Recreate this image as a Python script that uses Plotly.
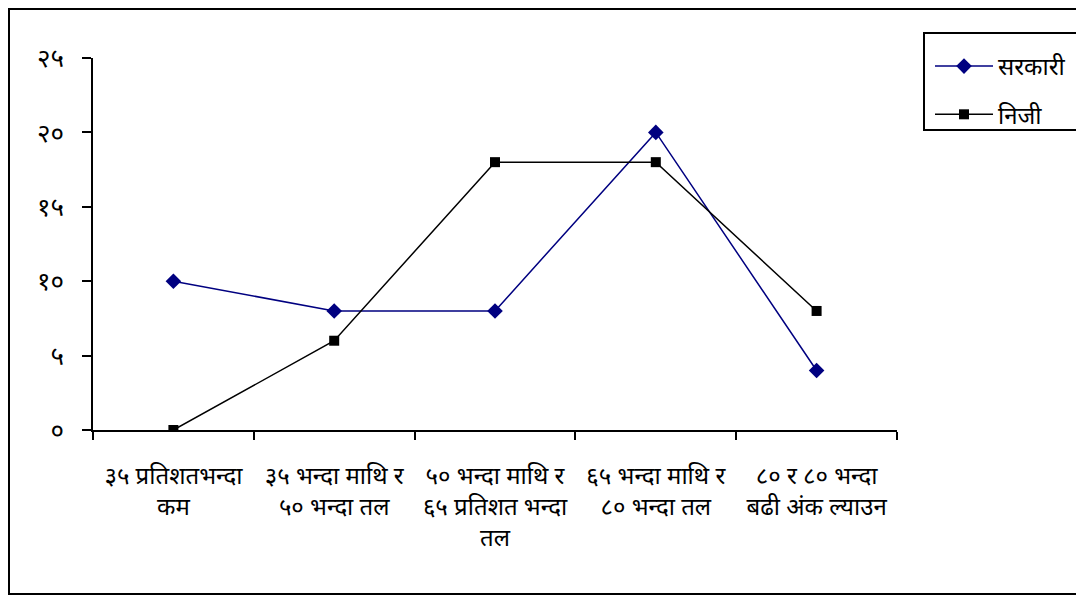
import plotly.graph_objects as go

categories = [
    "३५ प्रतिशतभन्दा<br>कम",
    "३५ भन्दा माथि र<br>५० भन्दा तल",
    "५० भन्दा माथि र<br>६५ प्रतिशत भन्दा<br>तल",
    "६५ भन्दा माथि र<br>८० भन्दा तल",
    "८० र ८० भन्दा<br>बढी अंक ल्याउन",
]
sarkari = [10, 8, 8, 20, 4]
niji = [0, 6, 18, 18, 8]
series_names = ["सरकारी", "निजी"]
y_tickvals = [0, 5, 10, 15, 20, 25]
y_ticktext = ["०", "५", "१०", "१५", "२०", "२५"]

OFF = 8  # page body margin
W, H = 1084 - OFF, 596 - OFF
L, R, T, B = 93 - OFF, 897 - OFF, 58 - OFF, 430 - OFF  # plot area in figure px

def px_x(p):
    return (p - OFF - L) / (R - L)

def px_y(p):
    return (B - (p - OFF)) / (B - T)

font_family = "Noto Sans Devanagari, Noto Sans, Lohit Devanagari, FreeSans, sans-serif"

fig = go.Figure()
fig.add_trace(go.Scatter(
    x=categories, y=sarkari, name=series_names[0], legendgroup="a",
    mode="lines+markers",
    line=dict(color="#000080", width=1.5),
    marker=dict(symbol="diamond", size=12, color="#000080"),
))
fig.add_trace(go.Scatter(
    x=categories, y=niji, name=series_names[1], legendgroup="b",
    mode="lines+markers",
    line=dict(color="#000000", width=1.5),
    marker=dict(symbol="square", size=10, color="#000000"),
))

fig.update_layout(
    width=W, height=H,
    margin=dict(l=L, r=W - R, t=T, b=H - B, pad=0),
    paper_bgcolor="white", plot_bgcolor="white",
    font=dict(family=font_family, color="black", size=20),
    showlegend=True,
    legend=dict(
        x=px_x(930), y=px_y(44), xanchor="left", yanchor="top",
        bgcolor="rgba(0,0,0,0)", borderwidth=0,
        font=dict(size=24), itemwidth=58, tracegroupgap=14,
    ),
    xaxis=dict(
        type="category", range=[-0.5, 4.5],
        showline=True, linecolor="black", linewidth=1.5,
        ticks="outside", tickson="boundaries", ticklen=8, tickcolor="black", tickwidth=1.5,
        showgrid=False, zeroline=False,
        tickfont=dict(size=24),
        ticklabelstandoff=23,
    ),
    yaxis=dict(
        range=[0, 25],
        tickmode="array", tickvals=y_tickvals, ticktext=y_ticktext,
        showline=True, linecolor="black", linewidth=1.5,
        ticks="outside", ticklen=9, tickcolor="black", tickwidth=1.5,
        showgrid=False, zeroline=False,
        tickfont=dict(size=26),
        ticklabelstandoff=13,
    ),
    shapes=[
        # outer frame
        dict(type="rect", xref="paper", yref="paper",
             x0=px_x(9), x1=px_x(1081), y0=px_y(594), y1=px_y(9),
             line=dict(color="black", width=2), fillcolor="rgba(0,0,0,0)"),
        # legend box
        dict(type="rect", xref="paper", yref="paper",
             x0=px_x(924), x1=px_x(1079), y0=px_y(130), y1=px_y(33),
             line=dict(color="black", width=2), fillcolor="rgba(0,0,0,0)"),
    ],
)

fig.write_html("out.html")
